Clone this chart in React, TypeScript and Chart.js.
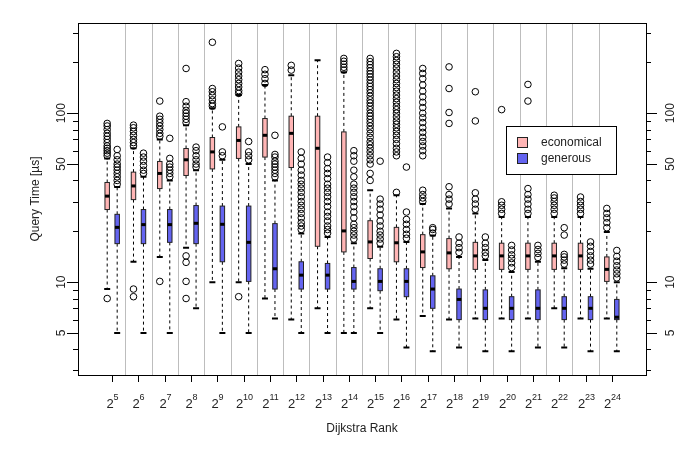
import React, { useEffect, useRef } from "react";
import { Chart, registerables } from "chart.js";
Chart.register(...registerables);

const categories = [5,6,7,8,9,10,11,12,13,14,15,16,17,18,19,20,21,22,23,24];
const ecoLo = [9.1,13.2,14.1,16,10,10,8.0,6.0,7.0,5,7.0,6.0,6.3,6.0,6.1,6.1,6.1,7.0,6.1,6.1];
const ecoQ1 = [26.9,30.8,35.8,42.8,46.8,54,55,47.7,16.3,15.1,13.8,13.2,12.2,12,11.9,11.9,11.9,11.9,11.9,10.1];
const ecoMed = [32.3,37.1,44,53,59,69,74,76,62,20.1,17.3,17.1,15.1,14.9,14.3,14.3,14.3,14.3,14.3,11.9];
const ecoQ3 = [38.9,44.8,51.8,61.8,71.8,83,93,96,96,77.5,23.1,21.1,19.1,18.1,17.2,17,17,17,17,14.1];
const ecoHi = [54,62,70,85,107,128,147,168,206,175,35,32.7,29,27.3,25.5,24.3,24.3,24.3,24.3,19.8];
const ecoOut: number[][] = [
  [56,58,60,62,64,67,70,73,76,80,84,87,8.0],
  [64,67,70,74,78,82,85,9.1,8.2],
  [73,76,80,84,88,92,96,118,10.1],
  [88,92,96,100,104,110,117,184,14.3,13.1,10.1,8.0],
  [110,114,120,127,134,140,263],
  [131,136,143,150,158,166,175,185,197,8.2],
  [150,160,170,181],
  [180,192],
  [],
  [180,187,195,203,211],
  [40,44,50,53,56,59,62,65,68,72,76,80,84,88,92,96,100,105,110,115,120,126,132,138,144,150,157,164,171,178,186,194,202,211],
  [34,56,59,62,66,70,74,78,82,86,90,95,100,105,110,116,122,128,135,142,150,158,166,175,185,195,205,216,226],
  [30,31.5,33,35,56,60,64,68,72,77,82,88,94,100,108,116,125,135,147,160,172,184],
  [29,31,33,36.7,87,101,140,188],
  [27,29,31,33.8,90,134],
  [25.5,27,28.5,29.9,105],
  [25.5,27,29,31,33,35.8,118,148],
  [25.5,27,28.5,30,31.5,32.7],
  [25.5,27,28.5,30,31.9],
  [21,22.5,24,25.5,27.3],
];
const genLo = [5,5,5,7.0,5,5,6.1,5,5,5,5,4.1,3.9,4.1,3.9,3.9,4.1,4.1,3.9,3.9];
const genQ1 = [16.9,16.9,17.2,16.9,13.2,10.1,9.1,9.1,9.1,9.1,8.9,8.2,7.0,6.0,6.0,6.0,6.0,6.0,6.0,6.0];
const genMed = [21.1,21.9,21.9,22.3,22,17.2,12,11,11,10.1,10.1,10.1,9.1,7.9,7.0,7.0,7.0,7.0,7.0,6.2];
const genQ3 = [25.2,26.9,26.9,28.4,28.2,28.2,22.2,13.2,12.9,12.2,12,12,10.9,9.1,9.0,8.2,9.0,8.2,8.2,7.9];
const genHi = [36.6,42,40,46,53,50,40,19.4,18.5,17,16.2,17.3,18.9,14.1,13.5,11.5,13.2,12.1,12.0,10];
const genOut: number[][] = [
  [38,40,42,44,46,48,50,53,56,61],
  [44,46,49,52,55,58],
  [42,44,46,48,50,54,71],
  [48,50,53,56,60,63],
  [56,59,83],
  [53,56,59,68],
  [42,44,46,48,50,52,55,57,74],
  [20.5,21.5,22.5,24,25.5,27,28.5,30,32,34,36,38,40,43,46,50,54,59],
  [19.5,20.5,21.5,23,24.5,26,28,30,32,34,36,38,41,44,47,51,55],
  [18,19,20,21,22,24,26,28,30,32,34,36,38,42,46,52,56,60],
  [17,18,19,20,21.5,23,25,27,29,31,52],
  [18.2,19.2,20.5,22,23.5,26,48],
  [19.5,20.5,21],
  [15,16,17,18.5],
  [14.3,15,16,17,18.5],
  [12.2,13,13.8,14.5,15.5,16.5],
  [14,14.8,15.6,16.5],
  [12.8,13.5,14.1,14.6,19,21],
  [12.8,13.5,14.3,15.2,16.3,17.3],
  [10.6,11.2,11.8,12.5,13.3,14.2,15.4],
];
const yTicks = [3,4,5,6,7,8,9,10,20,30,40,50,60,70,80,90,100,200,300];
const yLabels = [5,10,50,100];
const seriesNames = ["economical", "generous"];
const colors = ["#ffb5b5", "#6464f0"];

const OFF = 0.19;
const HALF = 0.17;
const FONT = "'Liberation Sans', Arial, sans-serif";

export default function App() {
  const ref = useRef<HTMLCanvasElement>(null);
  useEffect(() => {
    document.body.style.margin = "0";
    const series = [
      { lo: ecoLo, q1: ecoQ1, med: ecoMed, q3: ecoQ3, hi: ecoHi, out: ecoOut, off: -OFF },
      { lo: genLo, q1: genQ1, med: genMed, q3: genQ3, hi: genHi, out: genOut, off: OFF },
    ];
    const pts = series.map((s) =>
      s.out.flatMap((arr, i) => arr.map((v) => ({ x: i + s.off, y: v })))
    );
    const boxPlugin = {
      id: "boxes",
      beforeDatasetsDraw(chart: any) {
        const ctx = chart.ctx as CanvasRenderingContext2D;
        const xs = chart.scales.x, ys = chart.scales.y;
        const a = chart.chartArea;
        ctx.save();
        // separators
        ctx.strokeStyle = "#bdbdbd";
        ctx.lineWidth = 1;
        for (let i = 0; i < categories.length - 1; i++) {
          const px = Math.round(xs.getPixelForValue(i + 0.5)) + 0.5;
          ctx.beginPath(); ctx.moveTo(px, a.top); ctx.lineTo(px, a.bottom); ctx.stroke();
        }
        series.forEach((s, si) => {
          categories.forEach((_, i) => {
            const cx = xs.getPixelForValue(i + s.off);
            const w = xs.getPixelForValue(HALF) - xs.getPixelForValue(0);
            const yq1 = ys.getPixelForValue(s.q1[i]), yq3 = ys.getPixelForValue(s.q3[i]);
            const ylo = ys.getPixelForValue(s.lo[i]), yhi = ys.getPixelForValue(s.hi[i]);
            const ym = ys.getPixelForValue(s.med[i]);
            ctx.strokeStyle = "#000";
            ctx.lineWidth = 1;
            ctx.setLineDash([3, 3]);
            ctx.beginPath();
            ctx.moveTo(cx, yq1); ctx.lineTo(cx, ylo);
            ctx.moveTo(cx, yq3); ctx.lineTo(cx, yhi);
            ctx.stroke();
            ctx.setLineDash([]);
            ctx.lineWidth = 2;
            ctx.beginPath();
            ctx.moveTo(cx - 3, ylo); ctx.lineTo(cx + 3, ylo);
            ctx.moveTo(cx - 3, yhi); ctx.lineTo(cx + 3, yhi);
            ctx.stroke();
            ctx.fillStyle = colors[si];
            ctx.fillRect(cx - w / 2, yq3, w, yq1 - yq3);
            ctx.lineWidth = 1;
            ctx.strokeStyle = "#222";
            ctx.strokeRect(cx - w / 2, yq3, w, yq1 - yq3);
            ctx.lineWidth = 3;
            ctx.strokeStyle = "#000";
            ctx.beginPath(); ctx.moveTo(cx - w / 2, ym); ctx.lineTo(cx + w / 2, ym); ctx.stroke();
          });
        });
        ctx.restore();
      },
      afterDraw(chart: any) {
        const ctx = chart.ctx as CanvasRenderingContext2D;
        const xs = chart.scales.x, ys = chart.scales.y;
        const a = chart.chartArea;
        ctx.save();
        ctx.strokeStyle = "#000";
        ctx.lineWidth = 1;
        ctx.strokeRect(Math.round(a.left) + 0.5, Math.round(a.top) + 0.5, Math.round(a.right - a.left), Math.round(a.bottom - a.top));
        ctx.fillStyle = "#222";
        // y ticks
        yTicks.forEach((v) => {
          const py = Math.round(ys.getPixelForValue(v)) + 0.5;
          const major = yLabels.includes(v);
          ctx.beginPath();
          ctx.moveTo(a.left, py); ctx.lineTo(a.left - (major ? 11 : 5), py);
          ctx.moveTo(a.right, py); ctx.lineTo(a.right + (major ? 11 : 5), py);
          ctx.stroke();
        });
        ctx.font = `12px ${FONT}`;
        ctx.textAlign = "center";
        ctx.textBaseline = "middle";
        yLabels.forEach((v) => {
          const py = ys.getPixelForValue(v);
          [a.left - 16, a.right + 25].forEach((px) => {
            ctx.save(); ctx.translate(px, py); ctx.rotate(-Math.PI / 2);
            ctx.fillText(String(v), 0, 0); ctx.restore();
          });
        });
        ctx.save(); ctx.translate(36, (a.top + a.bottom) / 2); ctx.rotate(-Math.PI / 2);
        ctx.fillText("Query Time [µs]", 0, 0); ctx.restore();
        // x ticks
        categories.forEach((e, i) => {
          const px = Math.round(xs.getPixelForValue(i)) + 0.5;
          ctx.beginPath(); ctx.moveTo(px, a.bottom); ctx.lineTo(px, a.bottom + 7); ctx.stroke();
          ctx.font = `13px ${FONT}`;
          const w1 = ctx.measureText("2").width;
          ctx.font = `9px ${FONT}`;
          const w2 = ctx.measureText(String(e)).width;
          const x0 = px - (w1 + w2) / 2;
          ctx.textAlign = "left";
          ctx.textBaseline = "alphabetic";
          ctx.font = `13px ${FONT}`;
          ctx.fillText("2", x0, 408);
          ctx.font = `9px ${FONT}`;
          ctx.fillText(String(e), x0 + w1, 400);
        });
        ctx.font = `12px ${FONT}`;
        ctx.textAlign = "center";
        ctx.fillText("Dijkstra Rank", (a.left + a.right) / 2, 432);
        // legend
        ctx.fillStyle = "#fff";
        ctx.fillRect(506, 126, 110, 48);
        ctx.strokeRect(506.5, 126.5, 110, 48);
        seriesNames.forEach((n, k) => {
          const y = 142 + k * 16;
          ctx.fillStyle = colors[k];
          ctx.fillRect(517, y - 5, 10, 10);
          ctx.strokeStyle = "#222";
          ctx.strokeRect(517.5, y - 4.5, 10, 10);
          ctx.fillStyle = "#222";
          ctx.textAlign = "left";
          ctx.textBaseline = "middle";
          ctx.font = `12px ${FONT}`;
          ctx.fillText(n, 541, y + 1);
        });
        ctx.restore();
      },
    };
    const chart = new Chart(ref.current!, {
      type: "scatter",
      data: {
        datasets: pts.map((p) => ({
          data: p,
          pointStyle: "circle",
          radius: 3.3,
          borderColor: "#000",
          borderWidth: 1,
          backgroundColor: "rgba(0,0,0,0)",
        })),
      },
      options: {
        animation: false,
        responsive: false,
        events: [],
        layout: { padding: { left: 78, right: 54, top: 23, bottom: 77 } },
        plugins: { legend: { display: false }, tooltip: { enabled: false } },
        scales: {
          x: { type: "linear", min: -1.3, max: 20.3, display: false },
          y: { type: "logarithmic", min: 2.82, max: 342, display: false },
        },
      },
      plugins: [boxPlugin],
    });
    return () => chart.destroy();
  }, []);
  return <canvas ref={ref} width={700} height={452} style={{ display: "block" }} />;
}
